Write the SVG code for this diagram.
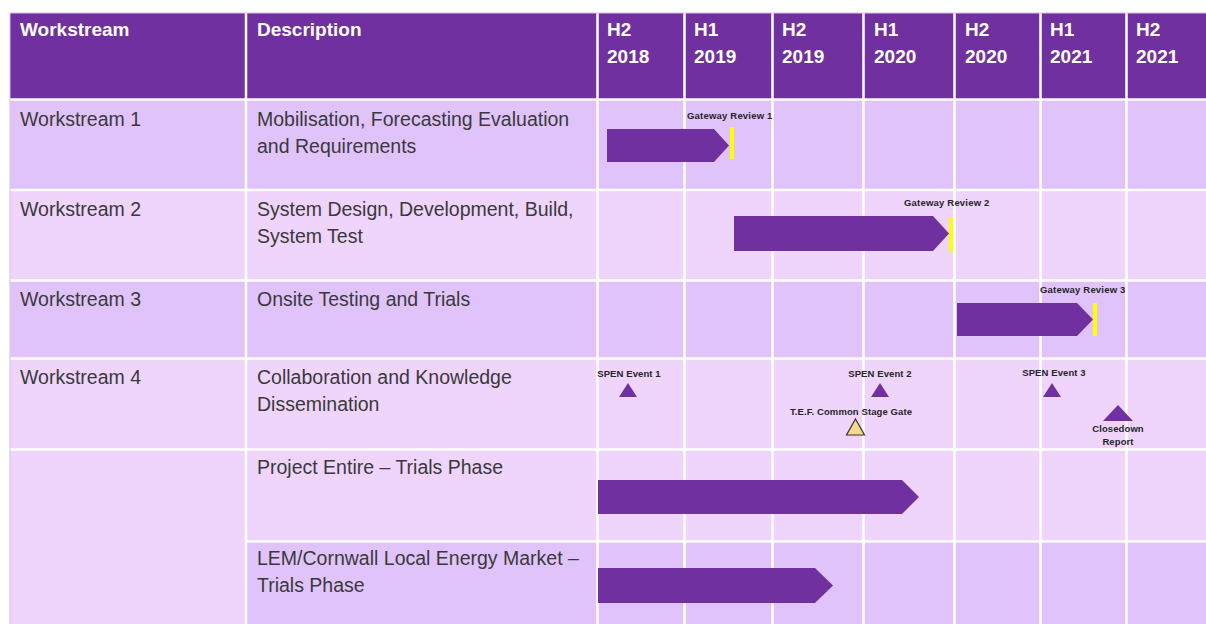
<svg xmlns="http://www.w3.org/2000/svg" width="1206" height="624" viewBox="0 0 1206 624">
<style>
.hdr{fill:#7030A0}
.dk{fill:#E1C3FB}
.lt{fill:#EFD4FC}
.grid{stroke:#FFFFFF;stroke-width:2.5;fill:none}
.ht{font-family:"Liberation Sans",Arial,sans-serif;font-size:19px;font-weight:bold;fill:#FFFFFF}
.bt{font-family:"Liberation Sans",Arial,sans-serif;font-size:19.5px;fill:#3A3A3A}
.sm{font-family:"Liberation Sans",Arial,sans-serif;font-size:9.5px;font-weight:bold;fill:#262626;letter-spacing:0.2px}
.smc{font-family:"Liberation Sans",Arial,sans-serif;font-size:9.5px;font-weight:bold;fill:#262626;text-anchor:middle;letter-spacing:0.1px}
.bar{fill:#7030A0}
.gate{fill:#FFFF00}
.ms{fill:#7030A0}
</style>
<rect width="1206" height="624" fill="#FFFFFF"/>
<g id="table">
<rect class="hdr" x="10" y="13" width="1196" height="86"/>
<rect class="dk" x="10" y="100" width="1196" height="90"/>
<rect class="lt" x="10" y="190" width="1196" height="91"/>
<rect class="dk" x="10" y="281" width="1196" height="78"/>
<rect class="lt" x="10" y="359" width="1196" height="91"/>
<rect class="lt" x="10" y="450" width="1196" height="92"/>
<rect class="lt" x="10" y="540" width="236" height="84"/>
<rect class="dk" x="246" y="542" width="960" height="82"/>
<path class="grid" d="M10,99.5H1206M10,190H1206M10,280.5H1206M10,358.5H1206M10,449.5H1206M246,541.5H1206"/>
<path class="grid" d="M246,13V624M597.5,13V624M684.5,13V624M772.5,13V624M863.5,13V624M954.5,13V624M1040.5,13V624M1126.5,13V624"/>
<path d="M10,13H1206M10,13V624" stroke="#D8C0EC" stroke-width="1" fill="none"/>
</g>
<g id="header">
<text class="ht" x="20" y="36">Workstream</text>
<text class="ht" x="257" y="36">Description</text>
<text class="ht"><tspan x="607" y="36">H2</tspan><tspan x="607" y="63">2018</tspan></text>
<text class="ht"><tspan x="694" y="36">H1</tspan><tspan x="694" y="63">2019</tspan></text>
<text class="ht"><tspan x="782" y="36">H2</tspan><tspan x="782" y="63">2019</tspan></text>
<text class="ht"><tspan x="874" y="36">H1</tspan><tspan x="874" y="63">2020</tspan></text>
<text class="ht"><tspan x="965" y="36">H2</tspan><tspan x="965" y="63">2020</tspan></text>
<text class="ht"><tspan x="1050" y="36">H1</tspan><tspan x="1050" y="63">2021</tspan></text>
<text class="ht"><tspan x="1136" y="36">H2</tspan><tspan x="1136" y="63">2021</tspan></text>
</g>
<g id="ws1">
<text class="bt" x="20" y="126">Workstream 1</text>
<text class="bt"><tspan x="257" y="126">Mobilisation, Forecasting Evaluation</tspan><tspan x="257" y="153">and Requirements</tspan></text>
<polygon class="bar" points="607,129 714,129 729,145.5 714,162 607,162"/>
<rect class="gate" x="730" y="127" width="4" height="32"/>
<text class="sm" x="687" y="119">Gateway Review 1</text>
</g>
<g id="ws2">
<text class="bt" x="20" y="216">Workstream 2</text>
<text class="bt"><tspan x="257" y="216">System Design, Development, Build,</tspan><tspan x="257" y="243">System Test</tspan></text>
<polygon class="bar" points="734,216 933,216 949,233.5 933,251 734,251"/>
<rect class="gate" x="949" y="218" width="4" height="33"/>
<text class="sm" x="904" y="206">Gateway Review 2</text>
</g>
<g id="ws3">
<text class="bt" x="20" y="306">Workstream 3</text>
<text class="bt" x="257" y="306">Onsite Testing and Trials</text>
<polygon class="bar" points="957,303 1077,303 1093,319.5 1077,336 957,336"/>
<rect class="gate" x="1093" y="303" width="4" height="33"/>
<text class="sm" x="1040" y="293">Gateway Review 3</text>
</g>
<g id="ws4">
<text class="bt" x="20" y="384">Workstream 4</text>
<text class="bt"><tspan x="257" y="384">Collaboration and Knowledge</tspan><tspan x="257" y="411">Dissemination</tspan></text>
<text class="smc" x="629" y="377">SPEN Event 1</text>
<polygon class="ms" points="628,383 637,397 619,397"/>
<text class="smc" x="880" y="377">SPEN Event 2</text>
<polygon class="ms" points="880,383 889,397 871,397"/>
<text class="smc" x="851" y="415">T.E.F. Common Stage Gate</text>
<polygon points="855.5,419 864.5,435 846.5,435" fill="#F7D98C" stroke="#333333" stroke-width="1.2"/>
<text class="smc" x="1054" y="376">SPEN Event 3</text>
<polygon class="ms" points="1052,383 1061,397 1043,397"/>
<polygon class="ms" points="1118,405 1133,421 1103,421"/>
<text class="smc"><tspan x="1118" y="432">Closedown</tspan><tspan x="1118" y="445">Report</tspan></text>
</g>
<g id="project">
<text class="bt" x="257" y="474">Project Entire – Trials Phase</text>
<polygon class="bar" points="598,480 902,480 919,497 902,514 598,514"/>
</g>
<g id="lem">
<text class="bt"><tspan x="257" y="565">LEM/Cornwall Local Energy Market –</tspan><tspan x="257" y="592">Trials Phase</tspan></text>
<polygon class="bar" points="598,568 815,568 833,585.5 815,603 598,603"/>
</g>
</svg>
